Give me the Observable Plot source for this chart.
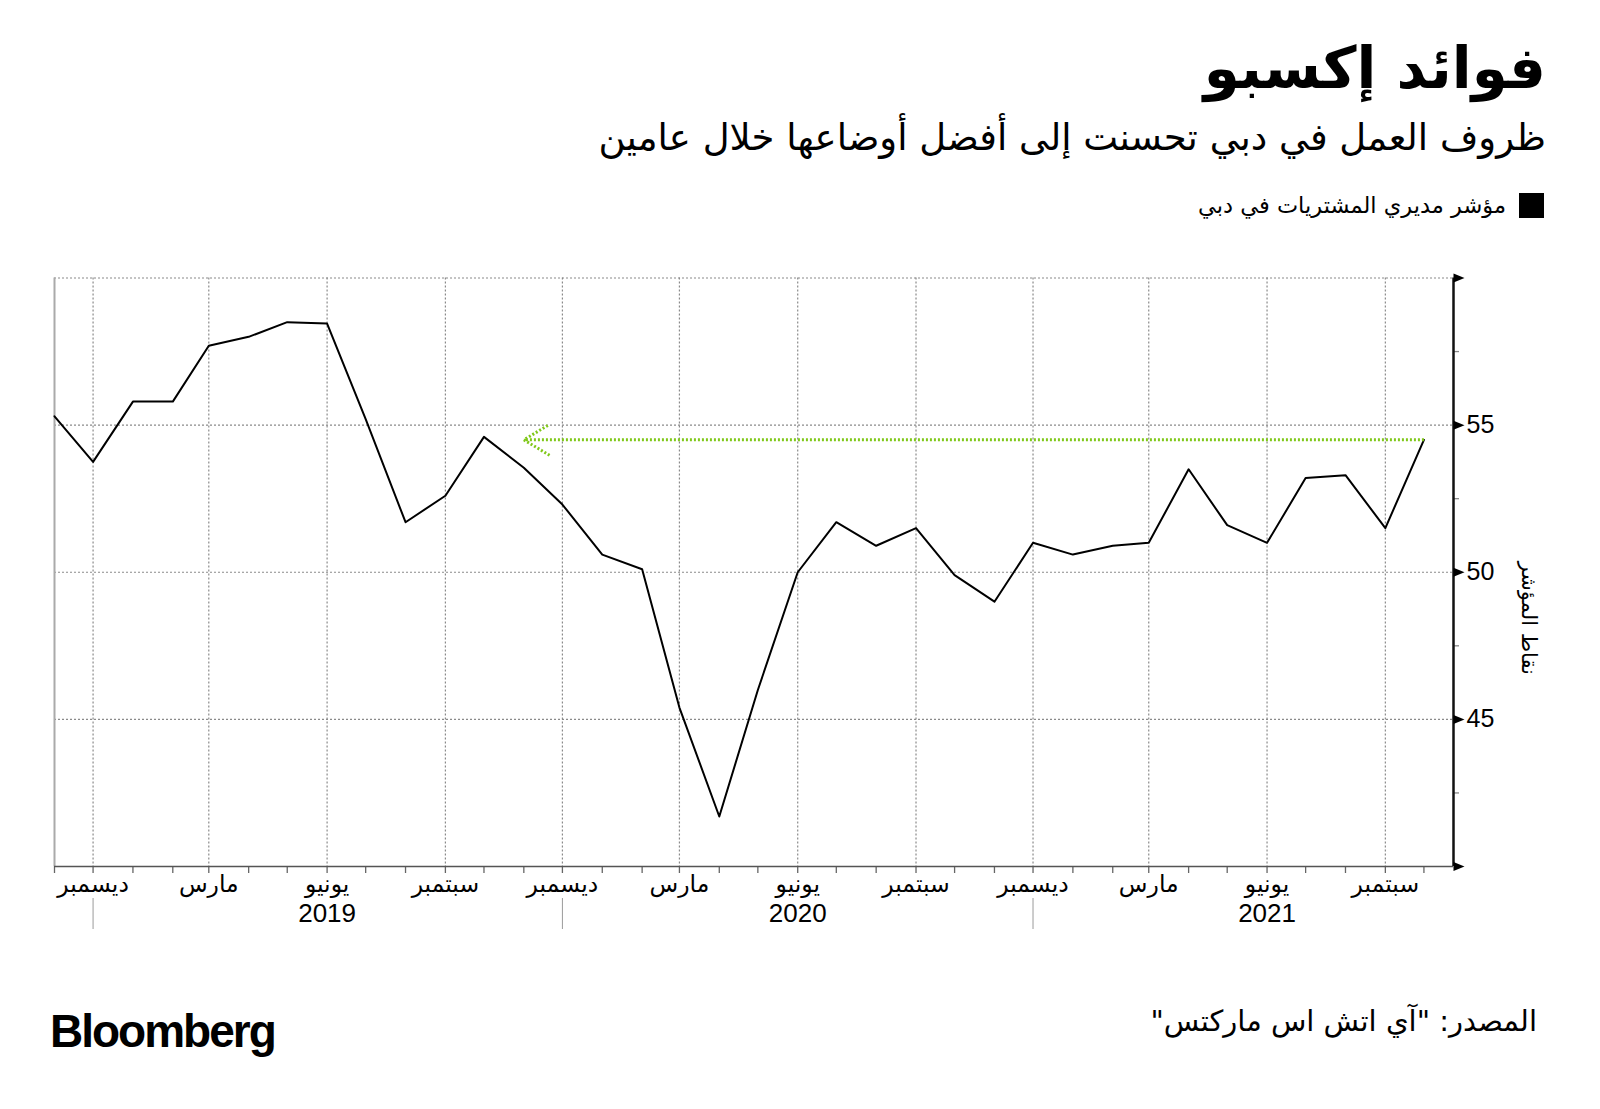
<!DOCTYPE html>
<html lang="ar">
<head>
<meta charset="utf-8">
<script src="https://cdn.jsdelivr.net/npm/d3@7"></script>
<script src="https://cdn.jsdelivr.net/npm/@observablehq/plot@0.6"></script>
<style>
  html, body { margin: 0; padding: 0; background: #fff; }
  body { width: 1600px; height: 1109px; overflow: hidden; font-family: "DejaVu Sans", sans-serif; }
  #header { position: relative; width: 1600px; height: 240px; }
  #title { position: absolute; right: 54px; top: 39px; font-size: 58px; font-weight: bold; line-height: 1; direction: rtl; color: #000; }
  #subtitle { position: absolute; right: 54px; top: 119px; font-size: 37px; line-height: 1; direction: rtl; color: #000; }
  #legend { position: absolute; right: 56px; top: 192px; display: flex; flex-direction: row-reverse; align-items: center; direction: ltr; }
  #legend .sw { width: 25px; height: 25px; background: #000; margin-left: 13px; }
  #legend .lt { font-size: 22.5px; direction: rtl; }
  #chart { width: 1600px; height: 720px; }
  #footer { position: relative; width: 1600px; height: 149px; }
  #logo { position: absolute; left: 50px; top: 44px; font-family: "Liberation Sans", Arial, sans-serif; font-weight: bold; font-size: 46px; letter-spacing: -2px; color: #000; }
  #source { position: absolute; right: 63px; top: 44px; font-size: 29px; direction: rtl; color: #000; }
</style>
</head>
<body>
<div id="header">
  <div id="title">فوائد إكسبو</div>
  <div id="subtitle">ظروف العمل في دبي تحسنت إلى أفضل أوضاعها خلال عامين</div>
  <div id="legend"><div class="sw"></div><div class="lt">مؤشر مديري المشتريات في دبي</div></div>
</div>
<div id="chart"></div>
<div id="footer">
  <div id="logo">Bloomberg</div>
  <div id="source">المصدر: "آي اتش اس ماركتس"</div>
</div>
<script>
// ---- data ----
const startMonth = new Date(Date.UTC(2018, 10, 1)); // Nov 2018
const pmi = [
  55.3, 53.75,                                                         // Nov-Dec 2018
  55.8, 55.8, 57.7, 58.0, 58.5, 58.45, 55.2, 51.7, 52.6, 54.6, 53.55, 52.3, // 2019
  50.6, 50.1, 45.4, 41.7, 46.0, 50.0, 51.7, 50.9, 51.5, 49.9, 49.0, 51.0,   // 2020
  50.6, 50.9, 51.0, 53.5, 51.6, 51.0, 53.2, 53.3, 51.5, 54.5              // Jan-Oct 2021
];
const monthNames = {2: "مارس", 5: "يونيو", 8: "سبتمبر", 11: "ديسمبر"};
const yearLabels = ["2019", "2020", "2021"];
const yMajor = [45, 50, 55];
const yGrid = [45, 50, 55, 60];
const yArrows = [40, 45, 50, 55, 60];
const yMinor = [42.5, 47.5, 52.5, 57.5];
const yTitle = "نقاط المؤشر";

const months = pmi.map((_, i) => d3.utcMonth.offset(startMonth, i));
const data = months.map((d, i) => ({date: d, value: pmi[i]}));
const xEnd = new Date(Date.UTC(2021, 9, 24));
const allMonths = d3.utcMonth.range(startMonth, xEnd);
const quarterTicks = allMonths.filter(d => d.getUTCMonth() % 3 === 2);
const decTicks = allMonths.filter(d => d.getUTCMonth() === 11);
const yearTicks = yearLabels.map(y => new Date(Date.UTC(+y, 5, 1)));

// ---- layout ----
const W = 1600, H = 720;
const mTop = 37.5, mBottom = 94, mLeft = 54, mRight = 147;
const frameH = H - mTop - mBottom;
const frameW = W - mLeft - mRight;

const arrowSym = {
  draw(ctx) { ctx.moveTo(0, -4.5); ctx.lineTo(11, 0); ctx.lineTo(0, 4.5); ctx.closePath(); }
};

const arabic = "DejaVu Sans, sans-serif";
const numFont = "Liberation Sans, Arial, sans-serif";

const last = data[data.length - 1];

const chart = Plot.plot({
  width: W, height: H,
  marginTop: mTop, marginBottom: mBottom, marginLeft: mLeft, marginRight: mRight,
  x: {type: "utc", domain: [startMonth, xEnd], axis: null},
  y: {domain: [40, 60], axis: null},
  marks: [
    // grid
    Plot.ruleY(yGrid, {stroke: "#8a8a8a", strokeWidth: 1.2, strokeDasharray: "2,2"}),
    Plot.ruleX(quarterTicks, {stroke: "#8a8a8a", strokeWidth: 1.2, strokeDasharray: "2,2"}),
    // left frame edge
    Plot.ruleX([startMonth], {stroke: "#aaaaaa", strokeWidth: 2}),
    // monthly ticks below the x axis
    Plot.ruleX(allMonths, {stroke: "#666", strokeWidth: 1.3, insetTop: frameH, insetBottom: -7}),
    // year separators
    Plot.ruleX(decTicks, {stroke: "#9a9a9a", strokeWidth: 1, insetTop: frameH + 32, insetBottom: -63}),
    // x axis line
    Plot.ruleY([40], {stroke: "#555", strokeWidth: 1.5}),
    // minor y ticks
    Plot.ruleY(yMinor, {stroke: "#888", strokeWidth: 1.3, insetLeft: frameW, insetRight: -6}),
    // y axis line
    Plot.ruleX([xEnd], {stroke: "#111", strokeWidth: 2.5}),
    // series line
    Plot.line(data, {x: "date", y: "value", stroke: "#000", strokeWidth: 2}),
    // green reference arrow (dotted)
    Plot.arrow([last], {
      x1: "date", y1: "value",
      x2: () => months[12], y2: "value",
      stroke: "#80c81a", strokeWidth: 3, strokeDasharray: "2,2", strokeLinecap: "butt",
      headLength: 15, headAngle: 62, bend: 0
    }),
    // axis arrowheads
    Plot.dot(yArrows, {y: d => d, frameAnchor: "right", symbol: arrowSym, fill: "#000", stroke: "none", r: 5}),
    // y labels
    Plot.text(yMajor, {y: d => d, text: d => String(d), frameAnchor: "right", dx: 13, textAnchor: "start",
      lineAnchor: "middle", fontSize: 25, fontFamily: numFont, fill: "#000"}),
    // y title
    Plot.text([yTitle], {text: d => d, frameAnchor: "right", dx: 75, dy: 46, rotate: 90,
      textAnchor: "middle", lineAnchor: "middle", fontSize: 21, fontFamily: arabic, fill: "#000"}),
    // month labels
    Plot.text(quarterTicks, {x: d => d, text: d => monthNames[d.getUTCMonth()], frameAnchor: "bottom", dy: 18,
      textAnchor: "middle", lineAnchor: "middle", fontSize: 23.5, fontFamily: arabic, fill: "#000"}),
    // year labels
    Plot.text(yearTicks, {x: d => d, text: (d, i) => yearLabels[i], frameAnchor: "bottom", dy: 47,
      textAnchor: "middle", lineAnchor: "middle", fontSize: 26, fontFamily: numFont, fill: "#000"})
  ]
});
document.getElementById("chart").appendChild(chart);
</script>
</body>
</html>
